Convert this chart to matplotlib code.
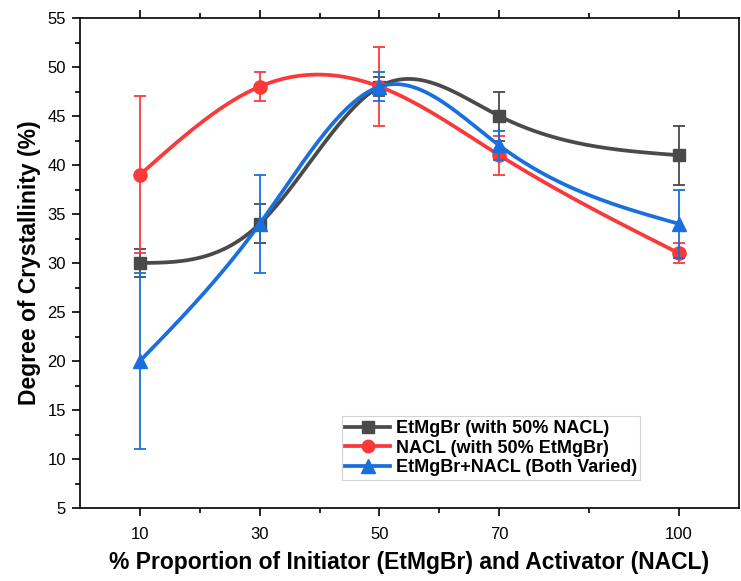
import numpy as np
import matplotlib
matplotlib.use("Agg")
import matplotlib.pyplot as plt
from matplotlib.lines import Line2D
from matplotlib.ticker import FixedLocator, MultipleLocator

plt.rcParams['font.family'] = ['Liberation Sans', 'DejaVu Sans']

# ---- data ----
x_vals = [10, 30, 50, 70, 100]
x_minor = [20, 40, 60, 85]
etmgbr = [30, 34, 48, 45, 41]
etmgbr_err = [1.4, 2.0, 1.0, 2.5, 3.0]
nacl = [39, 48, 48, 41, 31]
nacl_err = [8.0, 1.5, 4.0, 2.0, 1.0]
both = [20, 34, 48, 42, 34]
both_err = [9.0, 5.0, 1.5, 1.5, 3.5]
labels = ['EtMgBr (with 50% NACL)', 'NACL (with 50% EtMgBr)', 'EtMgBr+NACL (Both Varied)']
colors = ['#4a4a4a', '#fa3a3a', '#1a6fdf']
markers = ['s', 'o', '^']
msizes = [8.5, 9.5, 10]


def natural_spline(x, y, xs):
    x = np.asarray(x, float); y = np.asarray(y, float)
    n = len(x)
    h = np.diff(x)
    A = np.zeros((n, n)); b = np.zeros(n)
    A[0, 0] = 1; A[-1, -1] = 1
    for i in range(1, n - 1):
        A[i, i - 1] = h[i - 1]
        A[i, i] = 2 * (h[i - 1] + h[i])
        A[i, i + 1] = h[i]
        b[i] = 3 * ((y[i + 1] - y[i]) / h[i] - (y[i] - y[i - 1]) / h[i - 1])
    c = np.linalg.solve(A, b)
    bb = np.zeros(n - 1); d = np.zeros(n - 1)
    for i in range(n - 1):
        bb[i] = (y[i + 1] - y[i]) / h[i] - h[i] * (2 * c[i] + c[i + 1]) / 3
        d[i] = (c[i + 1] - c[i]) / (3 * h[i])
    idx = np.clip(np.searchsorted(x, xs) - 1, 0, n - 2)
    dx = xs - x[idx]
    return y[idx] + bb[idx] * dx + c[idx] * dx ** 2 + d[idx] * dx ** 3


fig = plt.figure(figsize=(7.41, 5.81), dpi=100)
ax = fig.add_axes([0.108, 0.1256, 0.889, 0.8434])

xs = np.linspace(min(x_vals), max(x_vals), 400)
series = [etmgbr, nacl, both]
errs = [etmgbr_err, nacl_err, both_err]
handles = []
for k, (yv, ev) in enumerate(zip(series, errs)):
    ax.errorbar(x_vals, yv, yerr=ev, fmt='none', ecolor=colors[k], elinewidth=1.3,
                capsize=4.5, capthick=1.3, zorder=2 + k)
    ax.plot(xs, natural_spline(x_vals, yv, xs), color=colors[k], lw=2.7,
            solid_capstyle='round', zorder=2 + k)
    ax.plot(x_vals, yv, ls='none', marker=markers[k], ms=msizes[k], color=colors[k],
            mec=colors[k], zorder=2 + k)
    handles.append(Line2D([], [], color=colors[k], lw=2.7, marker=markers[k],
                          ms=msizes[k] * 0.95, mec=colors[k]))

ax.set_xlim(0, 110)
ax.set_ylim(5, 55)
ax.xaxis.set_major_locator(FixedLocator(x_vals))
ax.xaxis.set_minor_locator(FixedLocator(x_minor))
ax.set_xticklabels([str(v) for v in x_vals])
ax.yaxis.set_major_locator(MultipleLocator(5))
ax.yaxis.set_minor_locator(MultipleLocator(2.5))

ax.tick_params(axis='x', which='both', direction='out', top=True, bottom=True,
               labelsize=12, pad=8)
ax.tick_params(axis='y', which='both', direction='out', left=True, right=False,
               labelsize=12, pad=4)
ax.tick_params(which='major', length=6, width=1.2)
ax.tick_params(which='minor', length=3.5, width=1.2)
for s in ax.spines.values():
    s.set_linewidth(1.2)

ax.set_xlabel('% Proportion of Initiator (EtMgBr) and Activator (NACL)',
              fontsize=16.5, fontweight='bold', labelpad=6)
ax.set_ylabel('Degree of Crystallinity (%)', fontsize=16.5, fontweight='bold', labelpad=5)

leg = ax.legend(handles, labels, loc='lower left', bbox_to_anchor=(0.397, 0.057),
                prop={'weight': 'bold', 'size': 13},
                frameon=True, fancybox=False, edgecolor='#c8c8c8', handlelength=2.5,
                handletextpad=0.3, labelspacing=0.15, borderpad=0.2, borderaxespad=0)
leg.get_frame().set_linewidth(0.8)

fig.savefig('out.png', dpi=100)
